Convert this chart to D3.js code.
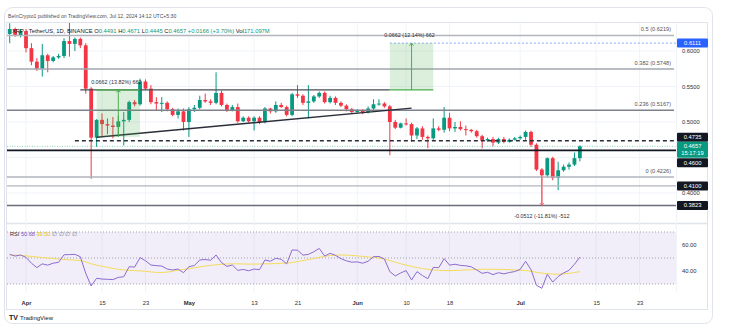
<!DOCTYPE html>
<html><head><meta charset="utf-8">
<script src="https://cdn.jsdelivr.net/npm/d3@7"></script>
<style>
body{margin:0;background:#fff}
text{font-family:"Liberation Sans",Arial,sans-serif}
</style></head>
<body><svg id="c" width="736" height="328"></svg>
<script>
// ---------------- DATA ----------------
const firstDay = "2024-03-29";
const lastDay = "2024-07-12";
const open  = [0.624,0.631,0.622,0.628,0.604,0.585,0.575,0.594,0.586,0.591,0.593,0.614,0.610,0.617,0.608,0.547,0.478,0.503,0.497,0.495,0.493,0.501,0.503,0.528,0.525,0.557,0.547,0.528,0.526,0.527,0.518,0.510,0.515,0.500,0.518,0.520,0.531,0.529,0.527,0.541,0.524,0.517,0.521,0.501,0.506,0.501,0.506,0.500,0.519,0.515,0.524,0.521,0.510,0.539,0.537,0.527,0.529,0.536,0.541,0.528,0.534,0.527,0.523,0.518,0.514,0.516,0.514,0.519,0.525,0.526,0.522,0.500,0.492,0.498,0.497,0.481,0.491,0.479,0.477,0.491,0.489,0.506,0.491,0.493,0.490,0.489,0.487,0.480,0.474,0.476,0.471,0.476,0.472,0.475,0.477,0.479,0.486,0.468,0.433,0.425,0.449,0.421,0.432,0.437,0.440,0.4491];
const high  = [0.639,0.633,0.631,0.631,0.611,0.590,0.610,0.596,0.593,0.596,0.618,0.641,0.619,0.619,0.611,0.549,0.504,0.512,0.505,0.507,0.509,0.514,0.530,0.531,0.561,0.560,0.552,0.535,0.535,0.529,0.520,0.519,0.519,0.521,0.524,0.537,0.540,0.532,0.570,0.544,0.526,0.524,0.526,0.508,0.508,0.508,0.508,0.521,0.520,0.529,0.527,0.523,0.541,0.552,0.539,0.552,0.538,0.543,0.543,0.537,0.536,0.529,0.525,0.520,0.518,0.518,0.522,0.532,0.532,0.528,0.524,0.503,0.499,0.505,0.499,0.493,0.494,0.481,0.505,0.494,0.521,0.513,0.500,0.501,0.495,0.490,0.489,0.482,0.478,0.479,0.478,0.479,0.477,0.479,0.481,0.488,0.488,0.470,0.435,0.450,0.451,0.444,0.440,0.443,0.457,0.4671];
const low   = [0.611,0.620,0.619,0.598,0.580,0.572,0.564,0.570,0.584,0.589,0.590,0.592,0.600,0.604,0.540,0.420,0.465,0.479,0.483,0.477,0.479,0.467,0.500,0.522,0.523,0.545,0.525,0.516,0.514,0.515,0.508,0.505,0.488,0.479,0.514,0.518,0.527,0.524,0.525,0.522,0.514,0.515,0.499,0.500,0.499,0.488,0.497,0.498,0.512,0.513,0.520,0.508,0.508,0.534,0.524,0.505,0.527,0.534,0.526,0.526,0.524,0.521,0.515,0.512,0.513,0.511,0.512,0.517,0.523,0.520,0.453,0.490,0.491,0.495,0.472,0.476,0.475,0.463,0.475,0.487,0.485,0.487,0.486,0.488,0.481,0.485,0.478,0.463,0.472,0.466,0.469,0.470,0.471,0.474,0.475,0.475,0.465,0.431,0.3823,0.422,0.418,0.404,0.430,0.433,0.438,0.4445];
const close = [0.631,0.622,0.628,0.604,0.585,0.575,0.594,0.586,0.591,0.593,0.614,0.610,0.617,0.608,0.547,0.478,0.503,0.497,0.495,0.493,0.501,0.503,0.528,0.525,0.557,0.547,0.528,0.526,0.527,0.518,0.510,0.515,0.500,0.518,0.520,0.531,0.529,0.527,0.541,0.524,0.517,0.521,0.501,0.506,0.501,0.506,0.500,0.519,0.515,0.524,0.521,0.510,0.539,0.537,0.527,0.529,0.536,0.541,0.528,0.534,0.527,0.523,0.518,0.514,0.516,0.514,0.519,0.525,0.526,0.522,0.500,0.492,0.498,0.497,0.481,0.491,0.479,0.477,0.491,0.489,0.506,0.491,0.493,0.490,0.489,0.487,0.480,0.474,0.476,0.471,0.476,0.472,0.475,0.477,0.479,0.486,0.468,0.433,0.425,0.449,0.421,0.432,0.437,0.440,0.4491,0.4657];
const rsi   = [52.8,51.5,52.3,50.5,46.0,42.6,45.5,44.5,46.0,46.7,52.5,52.6,52.8,51.0,38.2,28.5,34.4,33.8,33.6,33.4,35.1,35.6,43.3,43.0,50.3,47.9,44.6,44.1,43.8,41.5,40.8,41.5,38.7,43.3,44.2,48.5,48.8,48.3,52.3,46.5,43.5,44.6,40.5,41.2,40.2,41.5,41.0,48.5,47.5,49.8,49.0,45.5,56.2,56.0,52.2,52.8,54.8,57.4,51.5,53.6,52.0,49.5,47.8,46.8,47.0,46.0,47.5,51.0,51.2,49.2,39.5,36.2,38.5,40.3,33.1,39.5,36.5,34.1,42.8,42.5,49.5,44.5,45.2,44.3,44.0,43.2,40.8,38.2,39.0,37.2,38.7,37.8,38.8,39.6,41.2,47.5,41.0,29.0,26.7,37.5,31.5,35.8,38.5,40.5,45.2,50.68];
const rsiMA = [52.3,52.2,52.0,51.6,51.2,50.8,50.4,50.0,49.6,49.2,48.9,48.6,48.4,48.0,47.0,45.5,44.5,43.6,42.8,42.0,41.3,40.8,40.5,40.3,40.1,39.8,39.3,38.9,38.8,39.2,39.8,40.6,41.2,41.8,42.4,43.2,43.8,44.3,44.8,45.2,45.4,45.5,45.5,45.4,45.3,45.3,45.4,45.5,45.6,45.7,45.9,46.0,46.5,47.2,48.0,48.8,49.6,50.5,51.3,51.9,52.2,52.3,52.2,52.0,51.6,51.2,50.8,50.4,50.0,49.2,48.0,46.8,45.6,44.5,43.5,42.6,41.9,41.3,40.8,40.5,40.3,40.3,40.4,40.6,40.8,41.0,41.2,41.3,41.3,41.3,41.3,41.2,41.0,40.8,40.6,40.4,39.8,39.0,38.4,37.9,37.6,37.6,37.8,38.2,38.8,39.5];

const priceTicks = [0.60, 0.55, 0.50, 0.40];
const gridPrices = [0.60, 0.55, 0.50, 0.45, 0.40];
const rsiTicks = [60, 40];
const dateTicks = ["2024-04-01","2024-04-15","2024-04-23","2024-05-01","2024-05-13","2024-05-21","2024-06-01","2024-06-10","2024-06-18","2024-07-01","2024-07-15","2024-07-23"];
const dateTickLabels = ["Apr","15","23","May","13","21","Jun","10","18","Jul","15","23"];

const fibPrices = [0.6219, 0.5748, 0.5167, 0.4226];
const fibLabels = ["0.5 (0.6219)", "0.382 (0.5748)", "0.236 (0.5167)", "0 (0.4226)"];
const levelPrices = [0.4735, 0.4600, 0.4100, 0.3823];
const levelStarts = ["2024-04-10", null, null, null];
const rayPrice = 0.5452; const rayStart = "2024-04-11"; const rayEnd = "2024-06-07";
const trendDates = ["2024-04-14", "2024-06-11"];
const trendPrices = [0.4785, 0.5195];
const boxStarts = ["2024-04-14", "2024-06-07"];
const boxEnds = ["2024-04-22", "2024-06-15"];
const boxMid = ["2024-04-18", "2024-06-11"];
const boxFrom = [0.4790, 0.5449];
const boxTo = [0.5452, 0.6111];
const boxLabels = ["0.0662 (13.82%) 662", "0.0662 (12.14%) 662"];
const dropDate = "2024-07-05"; const dropFrom = 0.4335; const dropTo = 0.3823;
const dropLabel = "-0.0512 (-11.81%) -512";
const targetPrice = 0.6111;
const lastPrice = 0.4657; const countdown = "15:17:19";

// ---------------- LAYOUT ----------------
const svg = d3.select("#c");
const L = 7, R = 676, TOP = 23, MAINB = 223, RSIB = 292;
const days = d3.utcDay.range(new Date(firstDay), d3.utcDay.offset(new Date(lastDay), 1));
const x = d3.scaleUtc().domain([new Date(Date.UTC(2024,2,28,12)), new Date(Date.UTC(2024,6,29,16,48))]).range([L, R]);
const y = d3.scaleLinear().domain([0.4, 0.6]).range([193, 51]);
const yr = d3.scaleLinear().domain([40, 60]).range([271, 245]);
const D = s => new Date(s);
const green = "#089981", red = "#f23645";

// card
svg.append("rect").attr("x",4.5).attr("y",7.5).attr("width",708).attr("height",316).attr("rx",8)
  .attr("fill","#fff").attr("stroke","#e0e3eb");
svg.append("text").attr("x",8).attr("y",17.5).attr("font-size",5.1).attr("fill","#4a4d57")
  .text("BeInCrypto1 published on TradingView.com, Jul 12, 2024 14:12 UTC+5:30");
// frame
svg.append("rect").attr("x",6.5).attr("y",22.5).attr("width",701).attr("height",287).attr("fill","none").attr("stroke","#e0e3eb");
svg.append("line").attr("x1",6.5).attr("x2",707.5).attr("y1",MAINB+0.5).attr("y2",MAINB+0.5).attr("stroke","#e0e3eb").attr("stroke-width",1.5);
svg.append("line").attr("x1",R+0.5).attr("x2",R+0.5).attr("y1",22.5).attr("y2",RSIB).attr("stroke","#f0f3fa");

svg.append("defs").html(`<clipPath id="mc"><rect x="${L}" y="${TOP}" width="${R-L}" height="${MAINB-TOP}"/></clipPath>
<clipPath id="rc"><rect x="${L}" y="${MAINB+1}" width="${R-L}" height="${RSIB-MAINB-1}"/></clipPath>`);

// grid
const grid = svg.append("g");
grid.selectAll(".vg").data(dateTicks).join("line")
  .attr("x1",d=>x(D(d))).attr("x2",d=>x(D(d))).attr("y1",TOP).attr("y2",RSIB).attr("stroke","#f0f3fa");
grid.selectAll(".hg").data(gridPrices).join("line")
  .attr("x1",L).attr("x2",R).attr("y1",d=>y(d)).attr("y2",d=>y(d)).attr("stroke","#f0f3fa");

const main = svg.append("g").attr("clip-path","url(#mc)");

// candles
const candles = days.map((d,i)=>({d, o:open[i], h:high[i], l:low[i], c:close[i]}));
const bw = 3.8;
const cg = main.append("g");
cg.selectAll(".w").data(candles).join("line")
  .attr("x1",d=>x(d.d)).attr("x2",d=>x(d.d)).attr("y1",d=>y(d.h)).attr("y2",d=>y(d.l))
  .attr("stroke",d=>d.c>=d.o?green:red).attr("stroke-width",1);
cg.selectAll(".b").data(candles).join("rect")
  .attr("x",d=>x(d.d)-bw/2).attr("width",bw)
  .attr("y",d=>y(Math.max(d.o,d.c))).attr("height",d=>Math.max(1,Math.abs(y(d.o)-y(d.c))))
  .attr("fill",d=>d.c>=d.o?green:red);

// fib lines
const fibColors = ["#b2b5be","#a3a6af","#7e818b","#b2b5be"];
main.selectAll(".fib").data(fibPrices).join("line")
  .attr("x1",L).attr("x2",R-2).attr("y1",d=>y(d)).attr("y2",d=>y(d))
  .attr("stroke",(d,i)=>fibColors[i]).attr("stroke-width",1.5);
main.selectAll(".fibt").data(fibPrices).join("text")
  .attr("x",R-5).attr("y",d=>y(d)-4).attr("text-anchor","end").attr("font-size",5.6).attr("fill","#50535e")
  .text((d,i)=>fibLabels[i]);

// horizontal levels
const lvlColors = ["#2a2e39","#131722","#b2b5be","#6a6d78"];
main.selectAll(".lvl").data(levelPrices).join("line")
  .attr("x1",(d,i)=>levelStarts[i]?x(D(levelStarts[i])):L).attr("x2",R)
  .attr("y1",d=>y(d)).attr("y2",d=>y(d))
  .attr("stroke",(d,i)=>lvlColors[i]).attr("stroke-width",(d,i)=>i===1?1.6:1.4)
  .attr("stroke-dasharray",(d,i)=>i===0?"4,3":null);

// horizontal ray at box base
main.append("line").attr("x1",x(D(rayStart))).attr("x2",x(D(rayEnd))).attr("y1",y(rayPrice)).attr("y2",y(rayPrice))
  .attr("stroke","#4a4d57").attr("stroke-width",1.4);

// target dotted line
main.append("line").attr("x1",x(D(boxStarts[1]))).attr("x2",R).attr("y1",y(targetPrice)).attr("y2",y(targetPrice))
  .attr("stroke","#2962ff").attr("stroke-opacity",0.55).attr("stroke-dasharray","2,2");
// current price dotted line
main.append("line").attr("x1",L).attr("x2",R).attr("y1",y(lastPrice)).attr("y2",y(lastPrice))
  .attr("stroke",green).attr("stroke-opacity",0.45).attr("stroke-dasharray","1,1.5");

// trend line
main.append("line").attr("x1",x(D(trendDates[0]))).attr("y1",y(trendPrices[0]))
  .attr("x2",x(D(trendDates[1]))).attr("y2",y(trendPrices[1])).attr("stroke","#2a2e39").attr("stroke-width",1.4);

// measure boxes
boxStarts.forEach((s,i)=>{
  const x0=x(D(s)), x1=x(D(boxEnds[i])), xm=x(D(boxMid[i]));
  const y0=y(boxFrom[i]), y1=y(boxTo[i]);
  main.append("rect").attr("x",x0).attr("width",x1-x0).attr("y",Math.min(y0,y1)).attr("height",Math.abs(y1-y0))
    .attr("fill","#4caf50").attr("fill-opacity",0.2);
  main.append("line").attr("x1",x0).attr("x2",x1).attr("y1",y(rayPrice)).attr("y2",y(rayPrice))
    .attr("stroke","#4caf50").attr("stroke-width",1.3);
  main.append("line").attr("x1",xm).attr("x2",xm).attr("y1",y0).attr("y2",y1).attr("stroke","#4caf50").attr("stroke-width",1);
  main.append("path").attr("d",`M${xm-2},${y1+2.5}L${xm},${y1}L${xm+2},${y1+2.5}`).attr("fill","none").attr("stroke","#4caf50");
  main.append("text").attr("x",xm-2).attr("y",Math.min(y0,y1)-6).attr("text-anchor","middle").attr("font-size",5.4).attr("fill","#2a2e39")
    .text(boxLabels[i]);
});
// drop arrow
{
  const xd=x(D(dropDate)), y0=y(dropFrom), y1=y(dropTo);
  main.append("line").attr("x1",xd).attr("x2",xd).attr("y1",y0).attr("y2",y1).attr("stroke","#f7525f").attr("stroke-opacity",0.7);
  main.append("path").attr("d",`M${xd-2},${y1-2.5}L${xd},${y1}L${xd+2},${y1-2.5}`).attr("fill","none").attr("stroke","#f7525f").attr("stroke-opacity",0.8);
  main.append("text").attr("x",xd).attr("y",y1+12).attr("text-anchor","middle").attr("font-size",5.4).attr("fill","#2a2e39").text(dropLabel);
}

// legend
const lg = svg.append("text").attr("x",12).attr("y",32.5).attr("font-size",5.8);
lg.append("tspan").attr("fill","#131722").text("XRP · TetherUS, 1D, BINANCE  ");
[["O",open[open.length-1]],["H",high[high.length-1]],["L",low[low.length-1]],["C",close[close.length-1]]].forEach(([k,v])=>{
  lg.append("tspan").attr("fill","#131722").text(" "+k);
  lg.append("tspan").attr("fill",green).text(d3.format(".4f")(v));
});
lg.append("tspan").attr("fill",green).text("  +0.0166 (+3.70%)  ");
lg.append("tspan").attr("fill","#131722").text("Vol");
lg.append("tspan").attr("fill",green).text("171.097M");

// price axis
const pa = svg.append("g").attr("transform",`translate(${R+6},0)`)
  .call(d3.axisRight(y).tickValues(priceTicks).tickFormat(d3.format(".4f")).tickSize(0));
pa.select(".domain").remove();
pa.selectAll("text").attr("font-size",5.8).attr("fill","#2a2e39").attr("x",0).attr("font-family",'"Liberation Sans",Arial,sans-serif');

// badges
const badges = [
  {p:targetPrice, bg:"#2962ff", lines:[d3.format(".4f")(targetPrice)]},
  {p:levelPrices[0], bg:"#131722", lines:[d3.format(".4f")(levelPrices[0])]},
  {p:lastPrice, bg:green, lines:[d3.format(".4f")(lastPrice), countdown], main:true},
  {p:levelPrices[1], bg:"#131722", lines:[d3.format(".4f")(levelPrices[1])]},
  {p:levelPrices[2], bg:"#131722", lines:[d3.format(".4f")(levelPrices[2])]},
  {p:levelPrices[3], bg:"#131722", lines:[d3.format(".4f")(levelPrices[3])]},
];
badges.forEach(b=>{ b.h = b.lines.length*7+2; b.top = b.main ? y(b.p)-4.5 : y(b.p)-b.h/2; });
const mi = badges.findIndex(b=>b.main);
for(let i=mi-1;i>=0;i--){ const nb=badges[i+1]; if(badges[i].top+badges[i].h>nb.top) badges[i].top=nb.top-badges[i].h; }
for(let i=mi+1;i<badges.length;i++){ const pb=badges[i-1]; if(badges[i].top<pb.top+pb.h+0.5) badges[i].top=pb.top+pb.h+0.5; }
const bg = svg.append("g");
badges.forEach(b=>{
  bg.append("rect").attr("x",R+1).attr("y",b.top).attr("width",31).attr("height",b.h).attr("rx",1).attr("fill",b.bg);
  b.lines.forEach((t,k)=>bg.append("text").attr("x",R+16.5).attr("y",b.top+6.3+k*7).attr("text-anchor","middle")
    .attr("font-size",5.8).attr("fill","#fff").text(t));
});

// RSI pane
const rp = svg.append("g").attr("clip-path","url(#rc)");
rp.append("rect").attr("x",L).attr("width",R-L).attr("y",yr(70)).attr("height",yr(30)-yr(70)).attr("fill","#7e57c2").attr("fill-opacity",0.1);
rp.selectAll(".rl").data([70,50,30]).join("line").attr("x1",L).attr("x2",R).attr("y1",d=>yr(d)).attr("y2",d=>yr(d))
  .attr("stroke","#9598a1").attr("stroke-dasharray","1,2").attr("stroke-opacity",0.9);
rp.append("path").datum(rsiMA).attr("fill","none").attr("stroke","#f5dc5a").attr("stroke-width",1)
  .attr("d",d3.line().x((d,i)=>x(days[i])).y(d=>yr(d)));
rp.append("path").datum(rsi).attr("fill","none").attr("stroke","#8c6bd0").attr("stroke-width",1)
  .attr("d",d3.line().x((d,i)=>x(days[i])).y(d=>yr(d)));
const rl = svg.append("text").attr("x",10).attr("y",235.5).attr("font-size",5.6);
rl.append("tspan").attr("fill","#2a2e39").text("RSI ");
rl.append("tspan").attr("fill","#7e57c2").text(d3.format(".2f")(rsi[rsi.length-1])+" ");
rl.append("tspan").attr("fill","#e5c700").text(d3.format(".2f")(rsiMA[rsiMA.length-1])+" ");
rl.append("tspan").attr("fill","#787b86").text("∅ ∅ ∅ ∅");
const ra = svg.append("g").attr("transform",`translate(${R+6},0)`)
  .call(d3.axisRight(yr).tickValues(rsiTicks).tickFormat(d3.format(".2f")).tickSize(0));
ra.select(".domain").remove();
ra.selectAll("text").attr("font-size",5.8).attr("fill","#2a2e39").attr("x",0).attr("font-family",'"Liberation Sans",Arial,sans-serif');

// date axis
const da = svg.append("g").attr("transform",`translate(0,${RSIB+6})`)
  .call(d3.axisBottom(x).tickValues(dateTicks.map(D)).tickFormat((d,i)=>dateTickLabels[i]).tickSize(0));
da.select(".domain").remove();
da.selectAll("text").attr("font-size",5.8).attr("fill","#2a2e39").attr("font-family",'"Liberation Sans",Arial,sans-serif')
  .attr("font-weight",(d,i)=>/[A-Z]/.test(dateTickLabels[i])?"bold":null);

// logo
svg.append("text").attr("x",9).attr("y",320).attr("font-size",7).attr("font-weight","bold").attr("fill","#131722").text("TV");
svg.append("text").attr("x",20).attr("y",320).attr("font-size",6).attr("fill","#131722").text("TradingView");
</script></body></html>
